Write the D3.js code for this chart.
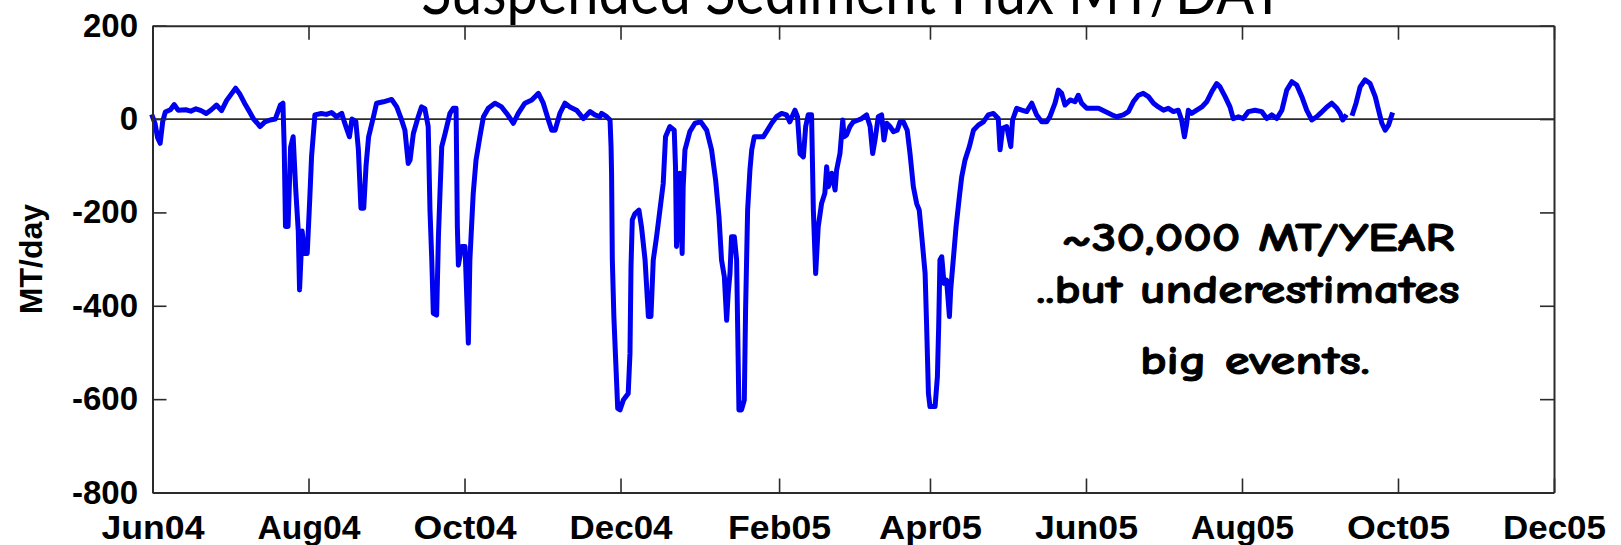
<!DOCTYPE html>
<html>
<head>
<meta charset="utf-8">
<script src="https://cdn.jsdelivr.net/npm/d3@7"></script>
<style>
  html, body { margin: 0; padding: 0; background: #ffffff; overflow: hidden; }
  svg { display: block; }
</style>
</head>
<body>
<script>
// ---------------- DATA ----------------
const startDate = "2004-06-01";
// days since startDate
const dayOffsets = [
  0, 1, 2, 3, 4, 5, 7, 8.5, 10, 13, 15, 17, 19, 21, 23, 25, 27, 29, 31, 32.5, 34, 36, 38, 39.5, 41, 42, 44, 46, 48, 50, 51,
  51.5, 52, 53, 54, 55, 56, 57, 57.5, 58.5, 59.5, 60.5, 61.5, 62.2, 63.5, 66, 68, 70, 72, 74, 75, 77, 78, 79.5, 80.5,
  81.5, 82.6, 83.5, 84.5, 86.4,
  87.6, 90.3, 93.5, 95.5, 97.4, 98.7, 100, 100.7, 102, 103.9, 105.2, 106.5, 107.8, 108.5, 109.2, 109.8, 111.1, 111.8,
  112.4, 113.1, 114.4, 116.3, 117.6, 118.7, 119.2, 119.6, 120.9, 122.2, 123.5, 124.1, 125.4, 126.5, 128, 129.4, 131.3,
  133.9, 136.5, 138.5, 141.1, 143, 145.6, 148.3, 150.9, 152.8, 154.8, 156.1, 157.4, 159.3, 161.3, 163.2, 165.8, 168.5,
  171.1, 173, 174.9,
  175.6, 177.6, 178.9, 179.3, 179.5, 179.8, 180.4, 181.1, 181.9, 182.8, 184.1, 186, 186.7, 187.1, 187.6, 188.6, 190.2,
  191.2, 192.6, 193.9, 194.9, 195.8, 197.1, 198.4, 199.7, 200.6, 202.3, 204, 204.5, 204.9, 206.2, 207.1, 207.5, 208.2,
  210.1, 212.1, 214.4, 216.7, 218.6, 220.2, 221.5, 222.5, 223.6, 224.5, 225.1, 225.8, 226.4, 227.5, 228.4, 228.8, 229.3,
  230.3, 231.4, 231.9, 232.3, 232.7, 233.6, 234.3, 235.3, 236.9, 238.8, 240.1, 242.1, 244, 246, 247.9, 249.2, 251.2,
  252.2, 253.2, 254.5, 255.4, 256.4, 257.7, 258.4, 259.3, 260.3, 261.6, 262.9,
  263.6, 264.3, 265.6, 266.9, 267.5, 268.8, 269.9, 270.4, 271.4, 272.7, 274, 276, 277.3, 279.2, 280.6, 281.6, 282.5,
  283.8, 285.1, 286, 287.1, 288.4, 289.7, 291.2, 292.3, 293.6, 295.1, 296.2, 297.5, 298.8, 299.8, 300.8, 302.1, 302.7,
  303.4, 304, 306, 306.9, 307.4, 307.9, 308.6, 309.5, 310.5, 311.6, 312.1, 313.1, 314.2, 315.5, 316.4, 317.7, 319.4,
  321, 322.9, 324.9, 326.8, 328.8, 330.7, 331.4, 332.4, 334, 335.6, 336.3, 337.9, 339.9, 341.8, 343.8, 345.7, 347.7,
  349.6, 350.9,
  352.9, 354.2, 355.5, 356.8, 358.8, 360.7, 362, 363.3, 365.3, 367.2, 369.9, 372.5, 375.1, 377, 379.6, 381.6, 383.5,
  385.5, 387.4, 389.4, 391.4, 393.3, 395.3, 397.2, 399.2, 401.1, 402.4, 403.5, 404.4, 405, 406.3, 408.3, 410.3, 412.2,
  414.2, 416.1, 417.4, 419.4, 421.3, 422.6, 424.6, 426.5, 428.5, 431.1, 433.7, 435.7, 437.6,
  439.6, 441.6, 443.5, 445.5, 447.4, 449.4, 451.3, 453.3, 455.2, 456.6, 459.2, 461.1, 463.1, 464.4, 465.4, 466.3,
  467.8,
  469.3, 470.6, 472.2, 474.1, 476.1, 478.1, 479.4, 480.7, 482, 483.3, 484.6
];
// MT/day; null marks the gap in the record
const fluxValues = [
  5, -10, -40, -52, -5, 15, 20, 31, 19, 20, 17, 22, 18, 12, 20, 30, 18, 40, 55, 66, 55, 34, 15, 0, -9, -16, -6, -2, 0, 30, 34,
  -60, -230, -230, -60, -38, -150, -240, -366, -240, -288, -288, -170, -80, 9, 12, 10, 14, 5, 12, -6, -38, 0, -5, -65,
  -191, -191, -100, -38, 5,
  34, 37, 42, 26, -2, -24, -95, -88, -31, 5, 26, 22, -16, -195, -302, -416, -420, -252,
  -160, -59, -31, 12, 23, 23, -230, -313, -273, -273, -480, -302, -160, -88, -38, 5, 23,
  34, 26, 12, -9, 12, 34, 41, 55, 34, -2, -24, -24, 12, 34, 26, 19, 1,
  16, 9, 5,
  12, 5, -2, -59, -116, -302, -423, -516, -620, -623, -602, -588, -502, -316, -216, -203, -195,
  -231, -302, -423, -423, -302, -252, -195, -138, -38, -16, -24, -102, -273, -116, -288, -145, -66,
  -27, -9, -6, -24, -66, -131, -209, -302, -338, -431, -374, -331, -252, -252, -302, -445, -623,
  -623, -602, -409, -302, -195, -109, -66, -38, -38, -38, -27, -9, 5, 12, 9, -6, 19,
  5, -74, -81, -16, 9, 9, -195, -331, -231, -181, -159,
  -102, -145, -116, -152, -109, -74, -2, -38, -34, -16, -6, -2, 1, 9, -16, -74, -45,
  5, 9, -45, -9, -16, -27, -24, -6, -6, -24, -74, -145, -181, -195, -252, -331, -445,
  -588, -616, -616, -552, -445, -302, -295, -352, -345, -423, -366, -302, -231, -166, -124, -88, -59,
  -24, -13, -6, 9, 12, 1, -66, -20, -16, -59, -2, 23, 19, 16, 34, 9, -6,
  -6, 5,
  34, 62, 55, 30, 41, 37, 51, 34, 23, 23, 23, 16, 9, 5, 9, 16, 37,
  51, 55, 48, 34, 26, 19, 23, 16, 19, -2, -38, -9, 19, 12, 19, 26, 37,
  59, 76, 69, 48, 26, 1, 5, 1, 16, 19, 16, 1, 9,
  1, 19, 62, 80, 73, 48, 19, -2, 5, 12, 26, 34, 23, 12, -2, 5,
  null,
  12, 34, 69, 84, 76, 48, 19, -9, -24, -13, 9
];

const xTickDates  = ["2004-06-01","2004-08-01","2004-10-01","2004-12-01","2005-02-01",
                     "2005-04-01","2005-06-01","2005-08-01","2005-10-01","2005-12-01"];
const xTickLabels = ["Jun04","Aug04","Oct04","Dec04","Feb05","Apr05","Jun05","Aug05","Oct05","Dec05"];
const yTickValues = [200, 0, -200, -400, -600, -800];
const yTickLabels = ["200","0","-200","-400","-600","-800"];

const titleText = "Suspended Sediment Flux MT/DAY";
const yLabelText = "MT/day";
const noteLines = ["~30,000 MT/YEAR", "..but underestimates", "big events."];

// ---------------- CHART ----------------
const W = 1621, H = 545;
const plot = { left: 152.5, right: 1554, top: 25.7, bottom: 492.5 };
const parse = d3.utcParse("%Y-%m-%d");
const t0 = parse(startDate);

const svg = d3.select("body").append("svg").attr("width", W).attr("height", H);

const x = d3.scaleUtc()
  .domain([parse(xTickDates[0]), parse(xTickDates[xTickDates.length - 1])])
  .range([plot.left, plot.right]);
const y = d3.scaleLinear().domain([-800, 200]).range([plot.bottom, plot.top]);

const data = dayOffsets.map((d, i) => ({
  date: new Date(t0.getTime() + d * 86400000),
  v: fluxValues[i]
}));

const axisColor = "#2b2b2b";
const tickFont = "'Liberation Sans', Arial, Helvetica, sans-serif";

// title (top is clipped by the page edge as in the reference)
svg.append("text")
  .attr("x", (plot.left + plot.right) / 2)
  .attr("y", 14)
  .attr("text-anchor", "middle")
  .attr("font-family", "'Century Gothic', 'URW Gothic', Lato, 'Noto Sans', sans-serif")
  .attr("font-size", 64)
  .attr("textLength", 864)
  .attr("lengthAdjust", "spacingAndGlyphs")
  .attr("fill", "#000")
  .text(titleText);

// zero line
svg.append("line")
  .attr("x1", plot.left).attr("x2", plot.right)
  .attr("y1", y(0)).attr("y2", y(0))
  .attr("stroke", axisColor).attr("stroke-width", 1.8);

// data line
const line = d3.line()
  .defined(d => d.v !== null)
  .x(d => x(d.date))
  .y(d => y(d.v));

svg.append("path")
  .datum(data)
  .attr("fill", "none")
  .attr("stroke", "#0000f0")
  .attr("stroke-width", 5)
  .attr("stroke-linejoin", "round")
  .attr("stroke-linecap", "square")
  .attr("d", line);

// axes
const xDates = xTickDates.map(parse);
const tickLen = 14;

function styleAxis(g) {
  g.selectAll(".domain").attr("stroke", axisColor).attr("stroke-width", 2);
  g.selectAll(".tick line").attr("stroke", axisColor).attr("stroke-width", 1.6);
  g.attr("font-family", tickFont).attr("font-size", 33).attr("font-weight", "bold");
  g.selectAll(".tick text").attr("fill", "#000");
}

const gBottom = svg.append("g")
  .attr("transform", `translate(0,${plot.bottom})`)
  .call(d3.axisBottom(x).tickValues(xDates)
    .tickFormat((d, i) => xTickLabels[i])
    .tickSizeInner(-tickLen).tickSizeOuter(0).tickPadding(0))
  .call(styleAxis);
gBottom.selectAll(".tick text")
  .attr("y", 46).attr("dy", 0)
  .attr("font-size", 34)
  .attr("textLength", 103)
  .attr("lengthAdjust", "spacingAndGlyphs");

svg.append("g")
  .attr("transform", `translate(0,${plot.top})`)
  .call(d3.axisTop(x).tickValues(xDates).tickFormat("")
    .tickSizeInner(-tickLen).tickSizeOuter(0))
  .call(styleAxis);

svg.append("g")
  .attr("transform", `translate(${plot.left},0)`)
  .call(d3.axisLeft(y).tickValues(yTickValues)
    .tickFormat((d, i) => yTickLabels[i])
    .tickSizeInner(-tickLen).tickSizeOuter(0).tickPadding(14.5))
  .call(styleAxis);

svg.append("g")
  .attr("transform", `translate(${plot.right},0)`)
  .call(d3.axisRight(y).tickValues(yTickValues).tickFormat("")
    .tickSizeInner(-tickLen).tickSizeOuter(0))
  .call(styleAxis);

// y label
svg.append("text")
  .attr("transform", `translate(31,${(plot.top + plot.bottom) / 2}) rotate(-90)`)
  .attr("text-anchor", "middle")
  .attr("dominant-baseline", "central")
  .attr("font-family", tickFont)
  .attr("font-size", 32)
  .attr("font-weight", "bold")
  .text(yLabelText);

// annotation
const notePos = [
  { x: 1258, y: 251, len: 393 },
  { x: 1248, y: 303, len: 423 },
  { x: 1255, y: 374, len: 230 }
];
svg.append("g")
  .selectAll("text")
  .data(noteLines)
  .join("text")
  .attr("x", (d, i) => notePos[i].x)
  .attr("y", (d, i) => notePos[i].y)
  .attr("text-anchor", "middle")
  .attr("font-family", "'Comic Sans MS', 'Comic Neue', Lato, 'Noto Sans', sans-serif")
  .attr("font-weight", "bold")
  .attr("font-size", 40)
  .attr("textLength", (d, i) => notePos[i].len)
  .attr("lengthAdjust", "spacingAndGlyphs")
  .attr("fill", "#000")
  .attr("stroke", "#000")
  .attr("stroke-width", 0.9)
  .attr("stroke-linejoin", "round")
  .text(d => d);
</script>
</body>
</html>
